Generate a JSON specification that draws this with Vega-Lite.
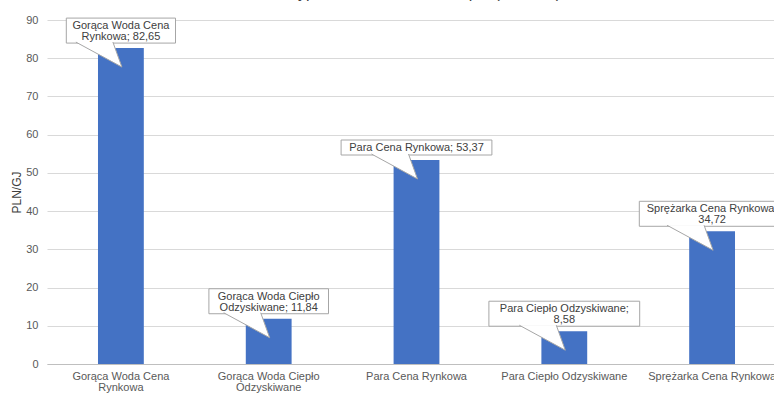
{
  "$schema": "https://vega.github.io/schema/vega-lite/v6.json",
  "autosize": "none",
  "width": 739,
  "height": 344,
  "padding": {"left": 47, "top": 20, "right": 0, "bottom": 29},
  "title": {
    "text": "Koszt wyprodukowania 1 GJ ciepła (PLN/GJ)",
    "font": "Liberation Sans",
    "fontSize": 16,
    "fontWeight": "normal",
    "color": "#404040",
    "baseline": "alphabetic",
    "offset": 0,
    "dx": -15
  },
  "data": {
    "values": [
      {"kategoria": "Gorąca Woda Cena Rynkowa", "koszt": 82.65},
      {"kategoria": "Gorąca Woda Ciepło Odzyskiwane", "koszt": 11.84},
      {"kategoria": "Para Cena Rynkowa", "koszt": 53.37},
      {"kategoria": "Para Ciepło Odzyskiwane", "koszt": 8.58},
      {"kategoria": "Sprężarka Cena Rynkowa", "koszt": 34.72}
    ]
  },
  "transform": [
    {"calculate": "replace(format(datum.koszt, '.2f'), '.', ',')", "as": "wartosc"},
    {"calculate": "length(datum.kategoria) > 23 ? [substring(datum.kategoria, 0, lastindexof(datum.kategoria, ' ')), substring(datum.kategoria, lastindexof(datum.kategoria, ' ') + 1) + '; ' + datum.wartosc] : (length(datum.kategoria) + length(datum.wartosc) + 2 > 24 ? [datum.kategoria + ';', datum.wartosc] : [datum.kategoria + '; ' + datum.wartosc])", "as": "etykieta"},
    {"calculate": "length(datum.etykieta)", "as": "n_linii"},
    {"calculate": "max(length(datum.etykieta[0]), length(datum.etykieta[length(datum.etykieta) - 1]))", "as": "max_znakow"}
  ],
  "encoding": {
    "x": {
      "field": "kategoria",
      "type": "nominal",
      "sort": null,
      "scale": {"paddingInner": 0.69, "paddingOuter": 0.345},
      "axis": {
        "title": null,
        "labelAngle": 0,
        "labelFont": "Liberation Sans",
        "labelFontSize": 11,
        "labelColor": "#595959",
        "labelPadding": 6,
        "labelLineHeight": 11,
        "labelBaseline": "top",
        "labelExpr": "length(datum.label) > 23 ? [substring(datum.label, 0, lastindexof(datum.label, ' ')), substring(datum.label, lastindexof(datum.label, ' ') + 1)] : datum.label",
        "ticks": false,
        "domain": true,
        "domainColor": "#bfbfbf",
        "grid": false
      }
    },
    "y": {
      "field": "koszt",
      "type": "quantitative",
      "scale": {"domain": [0, 90], "nice": false},
      "axis": {
        "title": "PLN/GJ",
        "titleFont": "Liberation Sans",
        "titleFontSize": 12,
        "titleFontWeight": "normal",
        "titleColor": "#404040",
        "titlePadding": 2,
        "values": [0, 10, 20, 30, 40, 50, 60, 70, 80, 90],
        "labelFont": "Liberation Sans",
        "labelFontSize": 11,
        "labelColor": "#595959",
        "labelPadding": 9,
        "ticks": false,
        "domain": false,
        "grid": true,
        "gridColor": "#d9d9d9"
      }
    }
  },
  "layer": [
    {"mark": {"type": "bar", "color": "#4472c4"}},
    {
      "mark": {
        "type": "rect",
        "fill": "white",
        "stroke": "#a6a6a6",
        "strokeWidth": 1,
        "width": {"expr": "5.2 * datum.max_znakow + 26"},
        "yOffset": {"expr": "-5 - (10 * datum.n_linii + 5)"},
        "y2Offset": -5
      },
      "encoding": {
        "y2": {"field": "koszt"}
      }
    },
    {
      "mark": {
        "type": "point",
        "shape": "M -0.16 -0.12 L 0.02 0.38 L -0.9 -0.12",
        "size": 10000,
        "filled": true,
        "fill": "white",
        "fillOpacity": 1,
        "stroke": "#a6a6a6",
        "strokeWidth": 1,
        "opacity": 1
      }
    },
    {
      "mark": {
        "type": "text",
        "font": "Liberation Sans",
        "fontSize": 11,
        "lineHeight": 11,
        "color": "#404040",
        "align": "center",
        "baseline": "top",
        "yOffset": {"expr": "-5 - (10 * datum.n_linii + 5) + 2"}
      },
      "encoding": {
        "text": {"field": "etykieta"}
      }
    }
  ],
  "config": {
    "view": {"stroke": null},
    "background": "white"
  }
}
